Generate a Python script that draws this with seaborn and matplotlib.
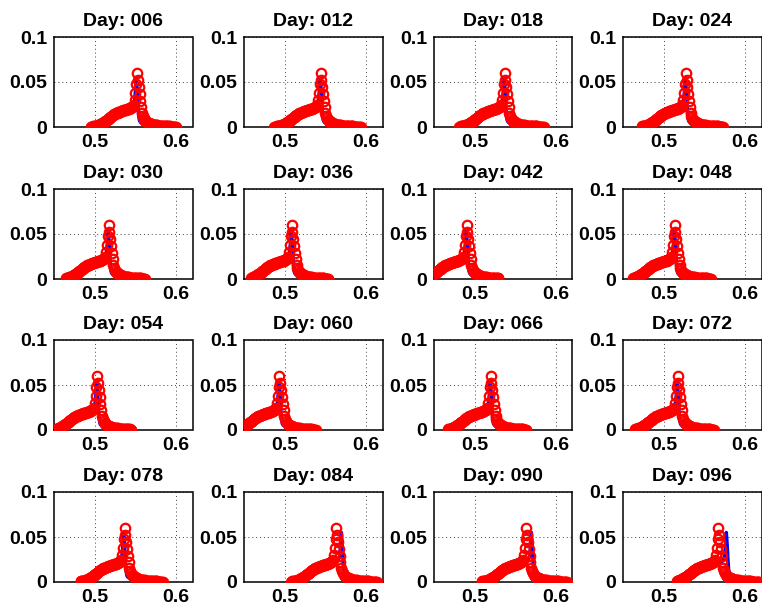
import numpy as np
import pandas as pd
import matplotlib
matplotlib.use("Agg")
import matplotlib.pyplot as plt
import seaborn as sns

# ---------------- data ----------------
days = ["006", "012", "018", "024", "030", "036", "042", "048",
        "054", "060", "066", "072", "078", "084", "090", "096"]

# x position of the observed (red) peak in each panel
red_peak = [0.552, 0.544, 0.5366, 0.527, 0.517, 0.5085, 0.490, 0.5134,
            0.503, 0.4935, 0.5195, 0.517, 0.5366, 0.5634, 0.5634, 0.5671]
# x position of the model (blue) peak in each panel
blue_peak = [0.551, 0.5435, 0.5360, 0.5265, 0.5165, 0.5080, 0.4895, 0.5130,
             0.5025, 0.4930, 0.5190, 0.5165, 0.5355, 0.5695, 0.5695, 0.5768]
# left / right extent of the observed samples, thousandths from the peak
red_start_milli = [-57, -57, -56, -54, -52, -50, -50, -51,
                   -48, -50, -52, -52, -54, -56, -55, -51]
red_end_milli = [48, 49, 48, 46, 45, 45, 39, 45,
                 42, 45, 44, 45, 47, 50, 50, 50]

# sample offsets from the peak, in thousandths of the x unit
offset_milli = list(range(-57, 51))

# observed profile (thousandths), one value per offset
red_profile_milli = [
    0.3, 0.4, 0.5, 0.6, 0.7, 0.8, 1.0, 1.2, 1.4, 1.7, 2.0, 2.4,
    2.9, 3.4, 4.0, 4.6, 5.2, 5.8, 6.5, 7.2, 7.9, 8.6, 9.3, 10.0, 10.7, 11.4, 12.1, 12.8, 13.4, 14.0,
    14.6, 15.1, 15.6, 16.0, 16.4, 16.8, 17.2, 17.5, 17.8, 18.1, 18.4, 18.7, 19.0, 19.3, 19.6, 19.9,
    20.2, 20.5, 20.9, 21.3, 21.8, 22.4, 23.2, 24.5,
    30, 38, 48,
    60,
    52, 45, 37, 29, 22, 16, 12, 9.5,
    8.0, 7.0, 6.2, 5.5, 4.9, 4.4, 4.0, 3.6, 3.3, 3.0, 2.7, 2.5,
    2.3, 2.1, 1.9, 1.8, 1.7, 1.6, 1.5, 1.4, 1.3, 1.2, 1.1, 1.0, 0.9, 0.9, 0.8,
    0.8, 0.7, 0.7, 0.6, 0.6, 0.5, 0.5, 0.4, 0.4, 0.4, 0.3, 0.3, 0.3, 0.2, 0.2,
]

# model profile (thousandths), one value per offset
blue_profile_milli = [
    0.3, 0.4, 0.5, 0.6, 0.7, 0.8, 1.0, 1.2, 1.4, 1.7, 2.0, 2.4,
    2.9, 3.4, 4.0, 4.6, 5.2, 5.8, 6.5, 7.2, 7.9, 8.6, 9.3, 10.0, 10.7, 11.4, 12.1, 12.8, 13.4, 14.0,
    14.6, 15.1, 15.6, 16.0, 16.4, 16.8, 17.2, 17.5, 17.8, 18.1, 18.4, 18.7, 19.0, 19.3, 19.6, 19.9,
    20.2, 20.5, 20.9, 21.3, 21.8, 22.4, 23.2, 24.5,
    26, 30, 40,
    55,
    42, 25, 12, 7, 5.5, 4.8,
    4.6, 4.4, 4.2, 4.0, 3.8, 3.6, 3.4, 3.2, 3.0, 2.9, 2.8, 2.7, 2.6, 2.5,
    2.3, 2.1, 1.9, 1.8, 1.7, 1.6, 1.5, 1.4, 1.3, 1.2, 1.1, 1.0, 0.9, 0.9, 0.8,
    0.8, 0.7, 0.7, 0.6, 0.6, 0.5, 0.5, 0.4, 0.4, 0.4, 0.3, 0.3, 0.3, 0.2, 0.2,
]

x_ticks = [0.5, 0.6]
x_tick_labels = ["0.5", "0.6"]
y_ticks = [0, 0.05, 0.1]
y_tick_labels = ["0", "0.05", "0.1"]

# ---------------- style ----------------
sns.set_style("white")
plt.rcParams["font.family"] = ["Liberation Sans", "DejaVu Sans"]
plt.rcParams["font.weight"] = "bold"
plt.rcParams["text.color"] = "black"
plt.rcParams["xtick.color"] = "black"
plt.rcParams["ytick.color"] = "black"

W, H = 762, 607
fig = plt.figure(figsize=(W / 100, H / 100), dpi=100)

col_left = [54, 244, 434, 623]
row_top = [37, 189, 340, 492]
ax_w, ax_h = 138.5, 90

offs_m = np.array(offset_milli)
offs = offs_m / 1000.0
red_y = np.array(red_profile_milli) / 1000.0
blue_y = np.array(blue_profile_milli) / 1000.0

for i, day in enumerate(days):
    r, c = divmod(i, 4)
    ax = fig.add_axes([col_left[c] / W, 1 - (row_top[r] + ax_h) / H, ax_w / W, ax_h / H])
    keep = (offs_m >= red_start_milli[i]) & (offs_m <= red_end_milli[i])
    df_r = pd.DataFrame({"x": red_peak[i] + offs[keep], "y": red_y[keep]})
    df_b = pd.DataFrame({"x": blue_peak[i] + offs[keep], "y": blue_y[keep]})
    sns.lineplot(data=df_b, x="x", y="y", ax=ax, color="blue", linewidth=2.5,
                 estimator=None, sort=False, zorder=2)
    sns.lineplot(data=df_r, x="x", y="y", ax=ax, color="red", linestyle="none",
                 marker="o", markersize=6.8, markerfacecolor="none",
                 markeredgecolor="red", markeredgewidth=1.6,
                 estimator=None, sort=False, zorder=3)
    ax.set_xlim(0.45, 0.62)
    ax.set_ylim(0, 0.1)
    ax.set_xticks(x_ticks)
    ax.set_xticklabels(x_tick_labels, fontsize=14, fontweight="bold", color="black")
    ax.set_yticks(y_ticks)
    ax.set_yticklabels(y_tick_labels, fontsize=14, fontweight="bold", color="black")
    ax.set_xlabel("")
    ax.set_ylabel("")
    ax.tick_params(direction="in", length=3, width=0.8, pad=5, colors="black")
    ax.grid(True, linestyle=(0, (1, 3)), color="0.25", linewidth=0.7)
    ax.set_axisbelow(True)
    for sp in ax.spines.values():
        sp.set_visible(True)
        sp.set_color("black")
        sp.set_linewidth(1.1)
    ax.set_title(f"Day: {day}", fontsize=14, fontweight="bold", pad=8, color="black")

fig.savefig("out.png", dpi=100, facecolor="white")
